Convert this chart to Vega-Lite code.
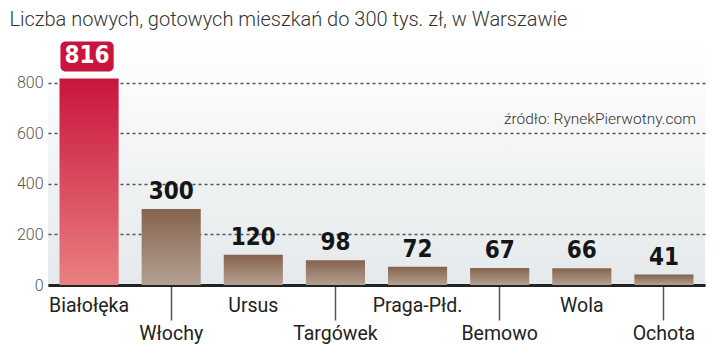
{
  "$schema": "https://vega.github.io/schema/vega-lite/v6.json",
  "autosize": {"type": "none"},
  "width": 657,
  "height": 245,
  "padding": {"left": 48, "top": 40, "right": 15, "bottom": 79},
  "background": "white",
  "title": {
    "text": "Liczba nowych, gotowych mieszkań do 300 tys. zł, w Warszawie",
    "anchor": "start",
    "dx": -7,
    "offset": 10,
    "font": "Roboto",
    "fontSize": 20,
    "fontWeight": 300,
    "color": "#333333"
  },
  "config": {
    "view": {
      "stroke": null,
      "fill": {"gradient": "linear", "x1": 0, "y1": 0, "x2": 0, "y2": 1, "stops": [{"offset": 0, "color": "#ffffff"}, {"offset": 1, "color": "#e4e9eb"}]}
    }
  },
  "data": {
    "values": [
      {"district": "Białołęka", "value": 816},
      {"district": "Włochy", "value": 300},
      {"district": "Ursus", "value": 120},
      {"district": "Targówek", "value": 98},
      {"district": "Praga-Płd.", "value": 72},
      {"district": "Bemowo", "value": 67},
      {"district": "Wola", "value": 66},
      {"district": "Ochota", "value": 41}
    ]
  },
  "encoding": {
    "x": {
      "field": "district",
      "type": "nominal",
      "sort": ["Białołęka", "Włochy", "Ursus", "Targówek", "Praga-Płd.", "Bemowo", "Wola", "Ochota"],
      "scale": {"paddingInner": 0.28, "paddingOuter": 0.14},
      "axis": {
        "title": null,
        "labelAngle": 0,
        "bandPosition": 0.5,
        "domainColor": "#222222",
        "domainWidth": 3,
        "tickColor": "#555555",
        "tickWidth": 1.5,
        "tickSize": {"condition": {"test": "indexof(['Włochy','Targówek','Bemowo','Ochota'], datum.value) >= 0", "value": 35}, "value": 0},
        "labelPadding": {"condition": {"test": "indexof(['Włochy','Targówek','Bemowo','Ochota'], datum.value) >= 0", "value": 4}, "value": 11},
        "labelFont": "Roboto",
        "labelFontSize": 19.5,
        "labelColor": "#222222",
        "labelBaseline": "top"
      }
    },
    "y": {
      "field": "value",
      "type": "quantitative",
      "scale": {"domain": [0, 968], "nice": false},
      "axis": {
        "title": null,
        "values": [0, 200, 400, 600, 800],
        "domain": false,
        "ticks": false,
        "labelPadding": 5,
        "labelFont": "Roboto",
        "labelFontSize": 16,
        "labelFontWeight": 300,
        "labelColor": "#555555",
        "gridColor": "#555555",
        "gridDash": [3, 3],
        "gridWidth": 1.5
      }
    }
  },
  "layer": [
    {
      "transform": [{"filter": "datum.district !== 'Białołęka'"}],
      "mark": {"type": "bar", "color": {"gradient": "linear", "x1": 0, "y1": 0, "x2": 0, "y2": 1, "stops": [{"offset": 0, "color": "#85634d"}, {"offset": 1, "color": "#b4a092"}]}}
    },
    {
      "transform": [{"filter": "datum.district === 'Białołęka'"}],
      "mark": {"type": "bar", "color": {"gradient": "linear", "x1": 0, "y1": 0, "x2": 0, "y2": 1, "stops": [{"offset": 0, "color": "#c9143d"}, {"offset": 1, "color": "#e98080"}]}}
    },
    {
      "transform": [{"filter": "datum.district !== 'Białołęka'"}],
      "mark": {"type": "text", "baseline": "bottom", "dy": -5, "font": "DejaVu Sans Condensed", "fontWeight": "bold", "fontSize": 24, "color": "#151515"},
      "encoding": {"text": {"field": "value", "type": "quantitative"}}
    },
    {
      "transform": [{"filter": "datum.district === 'Białołęka'"}],
      "mark": {"type": "bar", "yOffset": -7, "y2Offset": -37, "cornerRadius": 5, "width": {"band": 0.9}, "xOffset": -2, "color": "#c9143d"},
      "encoding": {"y2": {"field": "value"}}
    },
    {
      "transform": [{"filter": "datum.district === 'Białołęka'"}],
      "mark": {"type": "text", "baseline": "middle", "dy": -22, "dx": -2, "font": "DejaVu Sans Condensed", "fontWeight": "bold", "fontSize": 24, "color": "#ffffff"},
      "encoding": {"text": {"field": "value", "type": "quantitative"}}
    },
    {
      "transform": [{"filter": "datum.district === 'Ochota'"}],
      "mark": {"type": "text", "text": "źródło: RynekPierwotny.com", "align": "right", "baseline": "middle", "dx": 32, "font": "Roboto", "fontSize": 15.5, "fontWeight": 300, "color": "#333333"},
      "encoding": {
        "y": {"datum": 656}
      }
    }
  ]
}
